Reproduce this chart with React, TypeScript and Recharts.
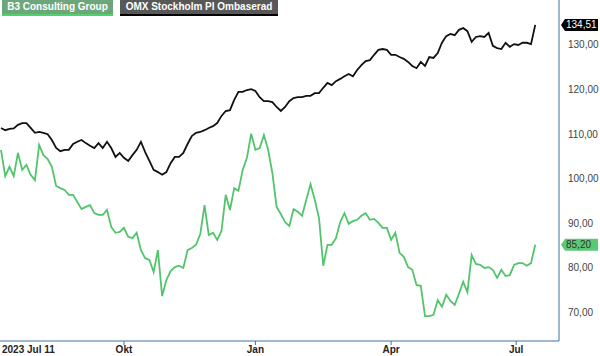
import React from "react";
import { LineChart, Line, XAxis, YAxis } from "recharts";

// series names, as shown in the legend chips
const seriesNames = ["B3 Consulting Group", "OMX Stockholm PI Ombaserad"];

// closing values sampled every 2nd trading day, 2023-07-11 .. 2024-07-12
const b3Values = [
  106.5, 100.6, 102.7, 100.6, 105.8, 102.0, 103.1, 100.9, 99.7, 107.6,
  105.3, 104.4, 102.7, 98.4, 97.9, 97.5, 96.4, 96.4, 94.8, 93.2,
  93.7, 94.1, 92.3, 91.9, 91.9, 93.0, 89.2, 87.9, 88.1, 89.0,
  87.0, 86.7, 87.9, 84.0, 82.2, 81.8, 79.1, 84.0, 73.7, 77.3,
  79.3, 80.2, 80.5, 80.0, 84.0, 84.5, 85.2, 87.6, 94.1, 87.4,
  87.9, 86.3, 88.3, 96.4, 93.0, 97.9, 97.3, 102.0, 104.7, 110.1,
  106.5, 106.9, 109.8, 106.5, 101.3, 93.7, 92.1, 90.3, 89.4, 93.2,
  92.6, 91.7, 95.3, 98.8, 95.3, 91.2, 80.5, 85.2, 85.2, 86.7,
  90.3, 92.3, 89.9, 90.5, 90.8, 91.7, 92.3, 90.8, 91.0, 90.1,
  89.0, 89.0, 86.3, 87.9, 83.4, 82.5, 80.2, 79.6, 76.2, 76.0,
  69.2, 69.2, 69.5, 72.8, 71.3, 74.0, 72.6, 71.7, 74.2, 76.9,
  74.6, 82.9, 80.9, 80.7, 80.0, 80.2, 79.6, 77.8, 79.6, 78.2,
  78.4, 80.7, 81.1, 81.1, 80.5, 81.1, 85.2,
];

const omxValues = [
  111.4, 110.9, 111.2, 111.3, 112.1, 112.5, 112.5, 111.4, 110.3, 110.5,
  110.3, 110.0, 108.7, 106.9, 106.2, 106.5, 106.5, 107.8, 108.3, 108.7,
  108.0, 107.4, 106.9, 108.0, 106.9, 108.3, 106.9, 104.9, 105.8, 104.7,
  104.0, 105.3, 106.5, 108.3, 106.0, 104.0, 102.0, 101.5, 100.9, 101.5,
  103.5, 104.9, 104.9, 105.8, 107.8, 109.6, 110.3, 110.5, 110.9, 111.4,
  111.8, 112.5, 114.1, 115.2, 115.4, 117.7, 119.5, 119.5, 119.9, 120.1,
  119.7, 118.3, 117.4, 117.4, 117.2, 116.1, 115.2, 116.1, 117.4, 118.1,
  118.3, 118.3, 118.6, 118.6, 119.2, 119.2, 120.4, 121.5, 121.0, 121.9,
  122.4, 123.0, 123.5, 123.0, 124.4, 125.5, 126.4, 126.6, 127.8, 128.9,
  129.1, 128.9, 127.8, 127.8, 127.3, 126.9, 126.2, 125.3, 124.8, 126.2,
  125.3, 127.3, 127.1, 128.2, 130.5, 132.0, 132.5, 132.2, 133.4, 133.8,
  133.1, 130.7, 131.8, 132.0, 131.8, 132.7, 129.8, 129.3, 129.1, 130.5,
  129.6, 130.2, 130.0, 130.5, 130.5, 130.2, 134.51,
];

// x ticks, as trading-day index from the start
const tickDays = [0, 58, 120, 184, 243];
const tickLabels = ["2023 Jul 11", "Okt", "Jan", "Apr", "Jul"];
const yTicks = [70, 80, 90, 100, 110, 120, 130];

const GREEN = "#52c46c";
const BLACK = "#111111";
const AXIS = "#3f74a0";
const FONT = "'Liberation Sans', Arial, sans-serif";

const b3Last = b3Values[b3Values.length - 1];
const omxLast = omxValues[omxValues.length - 1];

const data = b3Values.map((b3, i) => ({ day: i * 2, b3, omx: omxValues[i] }));

const fmt = (v: number) => v.toFixed(2).replace(".", ",");

const XTick = (props: any) => {
  const { x, y, payload } = props;
  const i = tickDays.indexOf(payload.value);
  const first = i === 0;
  return (
    <g>
      {!first && <line x1={x} x2={x} y1={y} y2={y + 4} stroke={AXIS} />}
      <text
        x={first ? 2 : x}
        y={y + 12}
        textAnchor={first ? "start" : "middle"}
        fontFamily={FONT}
        fontSize={10}
        fontWeight="bold"
        fill="#222"
      >
        {tickLabels[i]}
      </text>
    </g>
  );
};

const YTick = (props: any) => {
  const { x, y, payload } = props;
  const v = payload.value;
  if (v === b3Last || v === omxLast) {
    const black = v === omxLast;
    const bg = black ? "#000" : "#5cc875";
    return (
      <g>
        <path
          d={`M${x + 2},${y} L${x + 6},${y - 6} L${x + 39},${y - 6} L${x + 39},${y + 6} L${x + 6},${y + 6} Z`}
          fill={bg}
        />
        <text
          x={x + 7}
          y={y + 3.5}
          fontFamily={FONT}
          fontSize={10}
          fill={black ? "#fff" : "#333"}
        >
          {fmt(v)}
        </text>
      </g>
    );
  }
  return (
    <text x={x + 9} y={y + 3.5} fontFamily={FONT} fontSize={10} fill="#444">
      {fmt(v)}
    </text>
  );
};

const chipStyle = (left: number, width: number, bg: string, line: string): React.CSSProperties => ({
  position: "absolute",
  left,
  top: 0,
  width,
  height: 14,
  background: bg,
  borderBottom: `2px solid ${line}`,
  color: "#fff",
  fontFamily: FONT,
  fontSize: 10,
  fontWeight: "bold",
  lineHeight: "14px",
  textAlign: "center",
});

const App: React.FC = () => {
  return (
    <div style={{ position: "absolute", left: 0, top: 0, width: 600, height: 356, background: "#fff" }}>
      <LineChart
        width={600}
        height={356}
        data={data}
        margin={{ top: 0, right: 0, bottom: 0, left: 0 }}
      >
        <XAxis
          dataKey="day"
          type="number"
          domain={[-0.47, 263.2]}
          allowDataOverflow
          ticks={tickDays}
          tick={<XTick />}
          tickLine={false}
          tickSize={0}
          tickMargin={0}
          height={15}
          stroke={AXIS}
          interval={0}
        />
        <YAxis
          orientation="right"
          type="number"
          domain={[63.63, 140.09]}
          allowDataOverflow
          ticks={[...yTicks, b3Last, omxLast]}
          tick={<YTick />}
          tickLine={false}
          tickSize={0}
          tickMargin={0}
          width={41}
          stroke={AXIS}
          interval={0}
        />
        <Line
          dataKey="b3"
          name={seriesNames[0]}
          stroke={GREEN}
          strokeWidth={1.8}
          dot={false}
          activeDot={false}
          isAnimationActive={false}
        />
        <Line
          dataKey="omx"
          name={seriesNames[1]}
          stroke={BLACK}
          strokeWidth={1.8}
          dot={false}
          activeDot={false}
          isAnimationActive={false}
        />
      </LineChart>
      <div style={chipStyle(2, 111, "#6ea67c", "#4fd16c")}>{seriesNames[0]}</div>
      <div style={chipStyle(120, 158, "#585858", "#000")}>{seriesNames[1]}</div>
    </div>
  );
};

export default App;
